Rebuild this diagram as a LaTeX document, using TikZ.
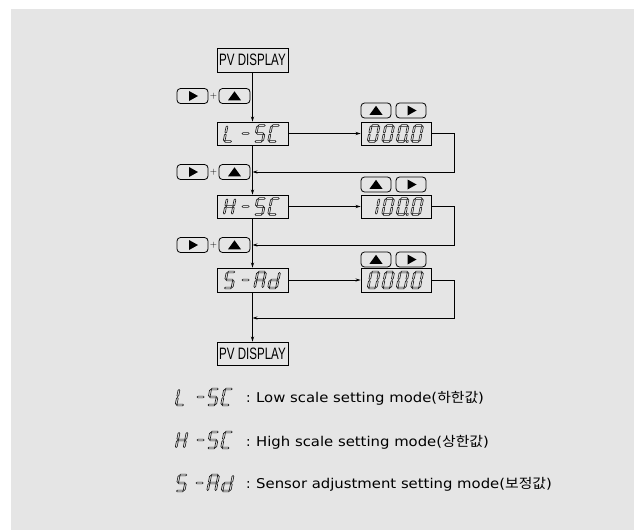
\documentclass[tikz,border=0pt]{standalone}
\usepackage{fontspec}
\newfontfamily\kofont{Noto Sans CJK KR}
\newfontfamily\lafont{DejaVu Sans}
\newfontfamily\pvfont{Liberation Sans}
\usetikzlibrary{arrows.meta}
\definecolor{bgc}{HTML}{E5E5E5}
\definecolor{segc}{HTML}{1A1A1A}

\newcommand\hsg[1]{\draw[seg] (0.5,#1) -- (1.4,#1+0.9) -- (6.6,#1+0.9) -- (7.5,#1) -- (6.6,#1-0.9) -- (1.4,#1-0.9) -- cycle;}
\newcommand\vsg[3]{\draw[seg] (#1,#2+0.5) -- (#1+0.9,#2+1.4) -- (#1+0.9,#3-1.4) -- (#1,#3-0.5) -- (#1-0.9,#3-1.4) -- (#1-0.9,#2+1.4) -- cycle;}
\newcommand\sgA{\hsg{16}}
\newcommand\sgG{\hsg{8}}
\newcommand\sgD{\hsg{0}}
\newcommand\sgF{\vsg{0}{8}{16}}
\newcommand\sgE{\vsg{0}{0}{8}}
\newcommand\sgB{\vsg{8}{8}{16}}
\newcommand\sgC{\vsg{8}{0}{8}}
\newcommand\sgP{\draw[seg] (9.5,-0.9) rectangle (11.1,0.9);}
\newcommand\segchar[3]{\begin{scope}[shift={(#1,#2)},xslant=0.2,yscale=-1]\foreach \s in {#3}{\csname sg\s\endcsname}\end{scope}}
\newcommand\rtri[1]{\fill[shift={(#1)}] (-3.5,-5) -- (5.5,0) -- (-3.5,5) -- cycle;}
\newcommand\utri[1]{\fill[shift={(#1)}] (-6.5,4.3) -- (6.5,4.3) -- (0,-4.7) -- cycle;}
\newcommand\legline[1]{\scalebox{1.1}[1]{#1}}

\begin{document}
\begin{tikzpicture}[x=1pt,y=-1pt,
  seg/.style={draw=segc,line width=0.6pt},
  box/.style={draw=black,line width=0.9pt,minimum width=71pt,minimum height=23pt,inner sep=0pt},
  pvbox/.style={box,font=\pvfont\fontsize{16.5}{18}\selectfont},
  btn/.style={draw=black,line width=0.8pt,rounded corners=3.5pt,minimum width=31pt,minimum height=15pt,inner sep=0pt},
  conn/.style={draw=black,line width=0.7pt},
  arr/.style={conn,-{Stealth[length=5pt,width=3.2pt]}},
  legtext/.style={anchor=base west,inner sep=0pt,font=\lafont\fontsize{13.5}{16}\selectfont}]
\useasboundingbox (0,0) rectangle (634,530);
\fill[white] (0,0) rectangle (634,530);
\fill[bgc] (11,9) rectangle (634,530);

% main boxes
\node[pvbox,minimum height=24pt] (pv1) at (252.5,60) {\scalebox{0.7}[1]{PV DISPLAY}};
\node[box] (lsc) at (252.5,133.5) {};
\node[box,minimum width=70pt] (lval) at (396,133.5) {};
\node[box] (hsc) at (252.5,206.5) {};
\node[box,minimum width=70pt] (hval) at (396,206.5) {};
\node[box,minimum height=24pt] (sad) at (252.5,280) {};
\node[box,minimum width=70pt,minimum height=24pt] (sval) at (396,280) {};
\node[pvbox] (pv2) at (252.5,353.5) {\scalebox{0.7}[1]{PV DISPLAY}};

% display characters
\segchar{224}{141.5}{D,E,F}
\segchar{240}{141.5}{G}
\segchar{254.5}{141.5}{A,F,G,C,D}
\segchar{268.5}{141.5}{A,F,E,D}
\segchar{368}{141.5}{A,B,C,D,E,F}
\segchar{382.5}{141.5}{A,B,C,D,E,F}
\segchar{397}{141.5}{A,B,C,D,E,F,P}
\segchar{411.5}{141.5}{A,B,C,D,E,F}

\segchar{224}{214.5}{B,C,E,F,G}
\segchar{240}{214.5}{G}
\segchar{254.5}{214.5}{A,F,G,C,D}
\segchar{268.5}{214.5}{A,F,E,D}
\segchar{368}{214.5}{B,C}
\segchar{382.5}{214.5}{A,B,C,D,E,F}
\segchar{397}{214.5}{A,B,C,D,E,F,P}
\segchar{411.5}{214.5}{A,B,C,D,E,F}

\segchar{224}{288}{A,F,G,C,D}
\segchar{240}{288}{G}
\segchar{254.5}{288}{A,B,C,E,F,G}
\segchar{268.5}{288}{B,C,D,E,G}
\segchar{368}{288}{A,B,C,D,E,F}
\segchar{382.5}{288}{A,B,C,D,E,F}
\segchar{397}{288}{A,B,C,D,E,F}
\segchar{411.5}{288}{A,B,C,D,E,F}

% return corners and junctions
\coordinate (r1) at (454,172);
\coordinate (r2) at (454,245);
\coordinate (r3) at (454,318);
\coordinate (j1) at (252.5,172);
\coordinate (j2) at (252.5,245);
\coordinate (j3) at (252.5,318);

% connectors
\draw[arr] (pv1.south) -- (lsc.north);
\draw[arr] (lsc.south) -- (hsc.north);
\draw[arr] (hsc.south) -- (sad.north);
\draw[arr] (sad.south) -- (pv2.north);
\draw[arr] (lsc.east) -- (lval.west);
\draw[arr] (hsc.east) -- (hval.west);
\draw[arr] (sad.east) -- (sval.west);
\draw[arr] (lval.east) -| (r1) -- (j1);
\draw[arr] (hval.east) -| (r2) -- (j2);
\draw[arr] (sval.east) -| (r3) -- (j3);

% left key combinations
\foreach \n/\y in {1/96,2/172,3/245}{
  \node[btn] (kr\n) at (192.5,\y) {};
  \node[btn] (ku\n) at (234.5,\y) {};
  \node[inner sep=0pt,font=\sffamily\fontsize{9}{10}\selectfont] (kp\n) at (213.5,\y) {+};
  \rtri{kr\n.center}
  \utri{ku\n.center}
}
% right keys
\foreach \n/\y in {1/110.5,2/184.5,3/259.5}{
  \node[btn,minimum width=30pt] (vu\n) at (376,\y) {};
  \node[btn,minimum width=30pt] (vr\n) at (411,\y) {};
  \utri{vu\n.center}
  \rtri{vr\n.center}
}

% legend
\segchar{176}{405}{D,E,F}
\segchar{195}{405}{G}
\segchar{207.5}{405}{A,F,G,C,D}
\segchar{221.5}{405}{A,F,E,D}
\node[legtext] (c1) at (246,402) {:};
\node[legtext] (t1) at (256,402) {\legline{Low scale setting mode({\kofont 하한값})}};

\segchar{176}{448}{B,C,E,F,G}
\segchar{195}{448}{G}
\segchar{207.5}{448}{A,F,G,C,D}
\segchar{221.5}{448}{A,F,E,D}
\node[legtext] (c2) at (246,446) {:};
\node[legtext] (t2) at (256,446) {\legline{High scale setting mode({\kofont 상한값})}};

\segchar{176}{491}{A,F,G,C,D}
\segchar{194}{491}{G}
\segchar{207.5}{491}{A,B,C,E,F,G}
\segchar{222}{491}{B,C,D,E,G}
\node[legtext] (c3) at (246,488) {:};
\node[legtext] (t3) at (256,488) {\legline{Sensor adjustment setting mode({\kofont 보정값})}};
\end{tikzpicture}
\end{document}
